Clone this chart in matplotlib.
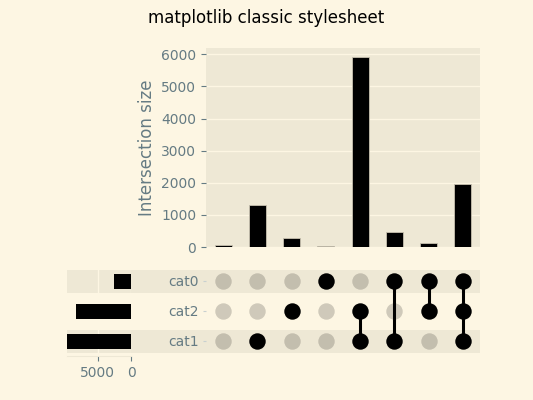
import matplotlib
matplotlib.use("Agg")
import matplotlib.pyplot as plt
from matplotlib.patches import Rectangle
import numpy as np

plt.style.use("Solarize_Light2")

categories = ["cat1", "cat2", "cat0"]  # bottom to top
intersections = [(), ("cat1",), ("cat2",), ("cat0",), ("cat1", "cat2"),
                 ("cat0", "cat1"), ("cat0", "cat2"), ("cat0", "cat1", "cat2")]
sizes = [73, 1298, 291, 30, 5930, 457, 114, 1973]
totals = [sum(s for inter, s in zip(intersections, sizes) if c in inter) for c in categories]

W, H = 533, 400
fig = plt.figure(figsize=(W / 100, H / 100), dpi=100)

def rect(l, t, r, b):
    return [l / W, 1 - b / H, (r - l) / W, (b - t) / H]

n = len(intersections)
x = np.arange(n)

# intersection bars
axb = fig.add_axes(rect(206, 48, 480, 247))
axb.bar(x, sizes, width=0.5, color="black", edgecolor="#c8c1b0", linewidth=0.6, zorder=3)
axb.set_xlim(-0.5, n - 0.5)
axb.set_ylim(0, max(sizes) * 1.045)
axb.set_yticks(range(0, 7000, 1000))
axb.grid(axis="x", visible=False)
axb.tick_params(axis="x", bottom=False, labelbottom=False)
axb.set_ylabel("Intersection size", fontsize=12)
for s in axb.spines.values():
    s.set_visible(False)

# matrix
axm = fig.add_axes(rect(206, 266, 480, 356))
axm.set_facecolor("none")
axm.grid(False)
axm.set_xlim(-0.5, n - 0.5)
axm.set_ylim(-0.5, len(categories) - 0.5)
for s in axm.spines.values():
    s.set_visible(False)
axm.tick_params(axis="x", bottom=False, labelbottom=False)
axm.set_yticks(range(len(categories)))
axm.set_yticklabels(categories)
axm.tick_params(axis="y", length=2, pad=3, color="#c8d0d0")
for i, inter in enumerate(intersections):
    for j, c in enumerate(categories):
        if c in inter:
            axm.scatter(i, j, s=140, color="black", zorder=3, linewidths=0)
        else:
            axm.scatter(i, j, s=140, color="black", alpha=0.18, zorder=3, linewidths=0)
    members = [j for j, c in enumerate(categories) if c in inter]
    if len(members) > 1:
        axm.plot([i, i], [min(members), max(members)], color="black", lw=2.2, zorder=2)

# totals
axt = fig.add_axes(rect(67, 266, 131, 356))
axt.set_facecolor("none")
axt.barh(range(len(categories)), totals, height=0.5, color="black", zorder=3)
axt.set_xlim(max(totals), 0)
axt.set_ylim(-0.5, len(categories) - 0.5)
axt.set_xticks([5000, 0])
axt.grid(axis="y", visible=False)
axt.tick_params(axis="y", left=False, labelleft=False)
for k, s in axt.spines.items():
    s.set_visible(k == "bottom")

# shading bands
for j, c in enumerate(categories):
    if j % 2 == 0:
        yc = 356 - (j + 0.5) * 30
        fig.patches.append(Rectangle((67 / W, 1 - (yc + 11.5) / H), (480 - 67) / W, 23 / H,
                                     transform=fig.transFigure, facecolor="#eee8d5",
                                     edgecolor="none", zorder=-1))

fig.suptitle("matplotlib classic stylesheet", fontsize=12, color="black", y=0.977)
fig.savefig("out.png", dpi=100)
